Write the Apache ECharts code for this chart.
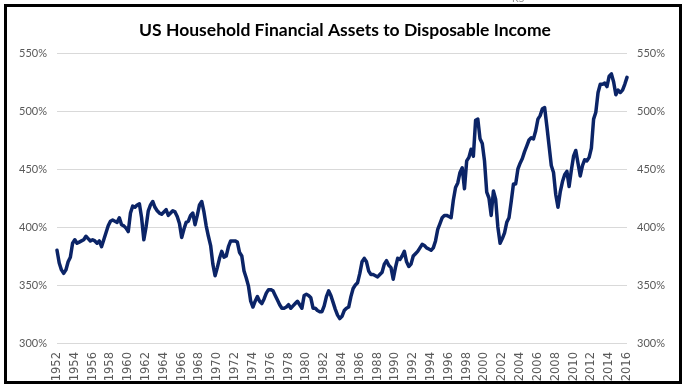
<!DOCTYPE html>
<html>
<head>
<meta charset="utf-8">
<script src="https://cdn.jsdelivr.net/npm/echarts@6/dist/echarts.min.js"></script>
<style>
html,body{margin:0;padding:0;background:#fff;}
#wrap{position:relative;width:690px;height:391px;overflow:hidden;}
#chart{position:absolute;left:0;top:0;width:690px;height:391px;}
#frame{position:absolute;left:4px;top:4px;width:672px;height:374px;border:3px solid #000;pointer-events:none;}
</style>
</head>
<body>
<div id="wrap"><div id="chart"></div><div id="frame"></div></div>
<script>
// Quarterly data, 1952Q1 .. 2016Q1 (percent)
const years = [];
for (let y = 1952; y <= 2016; y++) years.push(y);
const quarterLabels = [];
years.forEach(y => { for (let q = 1; q <= 4; q++) { if (y === 2016 && q > 1) break; quarterLabels.push(y + 'Q' + q); } });

const values = [
  380,369,363,360, 363,370,374,386, 389,386,387,388, 389,392,390,388,
  389,388,386,388, 383,389,395,401, 405,406,405,404, 408,402,401,399,
  396,412,418,417, 419,420,408,389, 400,414,419,422, 417,414,412,411,
  413,415,410,412, 414,413,409,403, 391,398,404,405, 410,412,402,410,
  419,422,413,401, 392,384,368,358, 365,373,379,374, 375,383,388,388,
  388,387,378,375, 362,356,349,336, 331,336,340,336, 334,338,343,346,
  346,345,341,337, 333,330,330,331, 333,330,332,334, 336,333,330,341,
  342,341,339,330, 330,328,327,327, 332,340,345,341, 335,329,324,321,
  323,328,330,331, 340,347,350,352, 360,370,373,370, 362,359,359,358,
  357,359,361,368, 371,367,365,355, 365,373,372,375, 379,370,366,368,
  375,377,379,382, 385,384,382,381, 380,382,388,398, 403,408,410,410,
  409,408,423,434, 438,447,451,433, 457,460,467,461, 492,493,476,472,
  457,430,425,410, 431,424,400,386, 390,395,404,408, 422,437,437,450,
  455,459,465,470, 475,477,476,483, 493,496,502,503, 487,470,453,447,
  428,417,430,439, 445,448,435,449, 461,466,455,444, 453,458,457,460,
  468,493,499,516, 523,523,524,521, 530,532,525,514, 518,516,518,523,
  529
];

const yTicks = [300, 350, 400, 450, 500, 550];
const titleText = 'US Household Financial Assets to Disposable Income';

const chart = echarts.init(document.getElementById('chart'), null, {renderer: 'canvas'});
const font = 'Lato, "Open Sans", sans-serif';
const yAxisCommon = {
  type: 'value',
  min: yTicks[0], max: yTicks[yTicks.length - 1], interval: 50,
  axisLine: {show: false}, axisTick: {show: false},
  axisLabel: {formatter: '{value}%', color: '#595959', fontSize: 11, fontFamily: font, margin: 10}
};
chart.setOption({
  animation: false,
  title: {
    text: titleText, left: 'center', top: 16,
    textStyle: {fontFamily: font, fontWeight: 'bold', fontSize: 17.5, color: '#000'}
  },
  graphic: [{type: 'text', left: 512, top: -6, style: {text: 'KS', fill: '#888', font: '10px ' + font}}],
  grid: {left: 57, right: 63, top: 53, bottom: 48, containLabel: false},
  xAxis: {
    type: 'category', data: quarterLabels, boundaryGap: false,
    axisLine: {show: false}, axisTick: {show: false},
    axisLabel: {
      interval: 7, rotate: 90, margin: 9, color: '#595959', fontSize: 11.5, fontFamily: '"DejaVu Sans", sans-serif',
      formatter: v => v.slice(0, 4)
    },
    splitLine: {show: false}
  },
  yAxis: [
    Object.assign({}, yAxisCommon, {position: 'left', splitLine: {show: true, lineStyle: {color: '#d9d9d9', width: 1}}}),
    Object.assign({}, yAxisCommon, {position: 'right', splitLine: {show: false}})
  ],
  series: [{
    type: 'line', data: values, yAxisIndex: 0, showSymbol: false, symbol: 'none',
    lineStyle: {color: '#0b2467', width: 3.5, join: 'round', cap: 'round'}, smooth: false
  }]
});
</script>
</body>
</html>
